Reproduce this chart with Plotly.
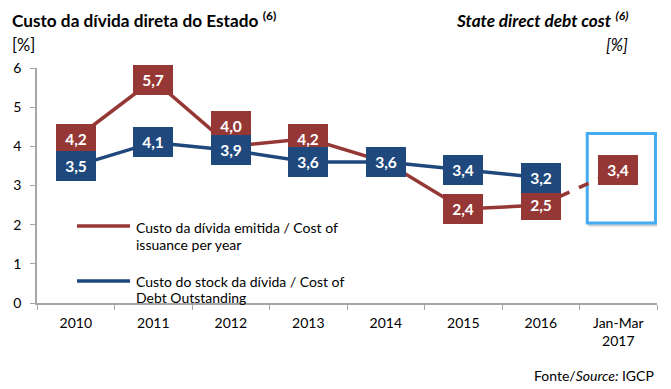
import plotly.graph_objects as go

categories = ["2010", "2011", "2012", "2013", "2014", "2015", "2016", "Jan-Mar<br>2017"]
issuance_cost = [4.2, 5.7, 4.0, 4.2, 3.6, 2.4, 2.5]
issuance_cost_latest = 3.4
outstanding_cost = [3.5, 4.1, 3.9, 3.6, 3.6, 3.4, 3.2]
y_ticks = [0, 1, 2, 3, 4, 5, 6]
legend_red = ["Custo da dívida emitida / Cost of", "issuance per year"]
legend_blue = ["Custo do stock da dívida / Cost of", "Debt Outstanding"]

RED = "#953735"
BLUE = "#1F497D"
FONT = "Lato, Carlito, 'Open Sans', sans-serif"

idx = list(range(len(categories)))

fig = go.Figure()

fig.add_trace(go.Scatter(x=idx[:len(issuance_cost)], y=issuance_cost, mode="lines",
                         line=dict(color=RED, width=3.5), showlegend=False, hoverinfo="skip"))
fig.add_trace(go.Scatter(x=[idx[len(issuance_cost) - 1], idx[-1]],
                         y=[issuance_cost[-1], issuance_cost_latest], mode="lines",
                         line=dict(color=RED, width=3.5, dash="dash"), showlegend=False, hoverinfo="skip"))
fig.add_trace(go.Scatter(x=idx[:len(outstanding_cost)], y=outstanding_cost, mode="lines",
                         line=dict(color=BLUE, width=3.5), showlegend=False, hoverinfo="skip"))

def fmt(v):
    return f"{v:.1f}".replace(".", ",")

annotations = []
def label(x, y, color, yshift=0):
    annotations.append(dict(x=x, y=y, xref="x", yref="y", text=f"<b>{fmt(y)}</b>", showarrow=False,
                            bgcolor=color, bordercolor=color, borderwidth=1, width=36, height=26,
                            yshift=yshift,
                            font=dict(family=FONT, size=15.5, color="white"), align="center", valign="middle"))

# the 2012 issuance label sits above its point in the original
red_label_shift = {2: 20}
for i, v in zip(idx, issuance_cost):
    label(i, v, RED, red_label_shift.get(i, 0))
label(idx[-1], issuance_cost_latest, RED)
for i, v in zip(idx, outstanding_cost):
    label(i, v, BLUE)

W, H = 671, 389
L, R, T, B = 37, 14, 68, 86
pw, ph = W - L - R, H - T - B

def px(x):
    return (x - L) / pw

def py(y):
    return (H - B - y) / ph

shapes = [
    dict(type="rect", xref="x", yref="y", x0=6.63, x1=7.51, y0=1.99, y1=4.3,
         line=dict(color="rgba(0,0,0,0.18)", width=3), fillcolor="rgba(0,0,0,0)", layer="below"),
    dict(type="rect", xref="x", yref="y", x0=6.6, x1=7.48, y0=2.04, y1=4.33,
         line=dict(color="#45ABF2", width=3), fillcolor="white", layer="below"),
    dict(type="line", xref="paper", yref="paper", x0=px(77), x1=px(130),
         y0=py(226), y1=py(226), line=dict(color=RED, width=3.5)),
    dict(type="line", xref="paper", yref="paper", x0=px(77), x1=px(130),
         y0=py(281), y1=py(281), line=dict(color=BLUE, width=3.5)),
]

def text(x, y, s, size, anchor="left"):
    annotations.append(dict(x=px(x), y=py(y), xref="paper", yref="paper", xanchor=anchor, yanchor="middle",
                            showarrow=False, text=s, font=dict(family=FONT, size=size, color="black")))

text(10, 19, "<b>Custo da dívida direta do Estado</b> <sup><b>(6)</b></sup>", 17.2)
text(10, 45, "[%]", 16.5)
text(630, 19, "<b><i>State direct debt cost</i></b> <sup><b><i>(6)</i></b></sup>", 17.2, "right")
text(630, 45, "<i>[%]</i>", 16.5, "right")
text(656, 375, "Fonte/<i>Source:</i> IGCP", 14, "right")
text(134, 227, legend_red[0], 14)
text(134, 244, legend_red[1], 14)
text(134, 281, legend_blue[0], 14)
text(134, 297, legend_blue[1], 14)

fig.update_layout(
    width=W, height=H,
    margin=dict(l=L, r=R, t=T, b=B),
    paper_bgcolor="white", plot_bgcolor="white",
    font=dict(family=FONT, size=14, color="black"),
    showlegend=False,
    annotations=annotations,
    shapes=shapes,
    xaxis=dict(tickmode="array", tickvals=idx, ticktext=categories,
               range=[-0.5, len(categories) - 0.5],
               showline=True, linecolor="#A6A6A6", linewidth=1.5,
               ticks="", showgrid=False, zeroline=False,
               tickfont=dict(family=FONT, size=14), ticklabelstandoff=6),
    yaxis=dict(range=[0, 6], tickvals=y_ticks, ticktext=[str(t) for t in y_ticks],
               showline=True, linecolor="#A6A6A6", linewidth=1.5,
               ticks="outside", ticklen=5, tickcolor="#A6A6A6",
               showgrid=False, zeroline=False, tickfont=dict(family=FONT, size=14), ticklabelstandoff=6),
)

fig.update_xaxes(minor=dict(tickvals=[i - 0.5 for i in idx] + [idx[-1] + 0.5], ticks="outside",
                            ticklen=5, tickcolor="#A6A6A6", showgrid=False))

fig.write_html("out.html", config={"displayModeBar": False},
               post_script="document.body.style.margin='0';")
